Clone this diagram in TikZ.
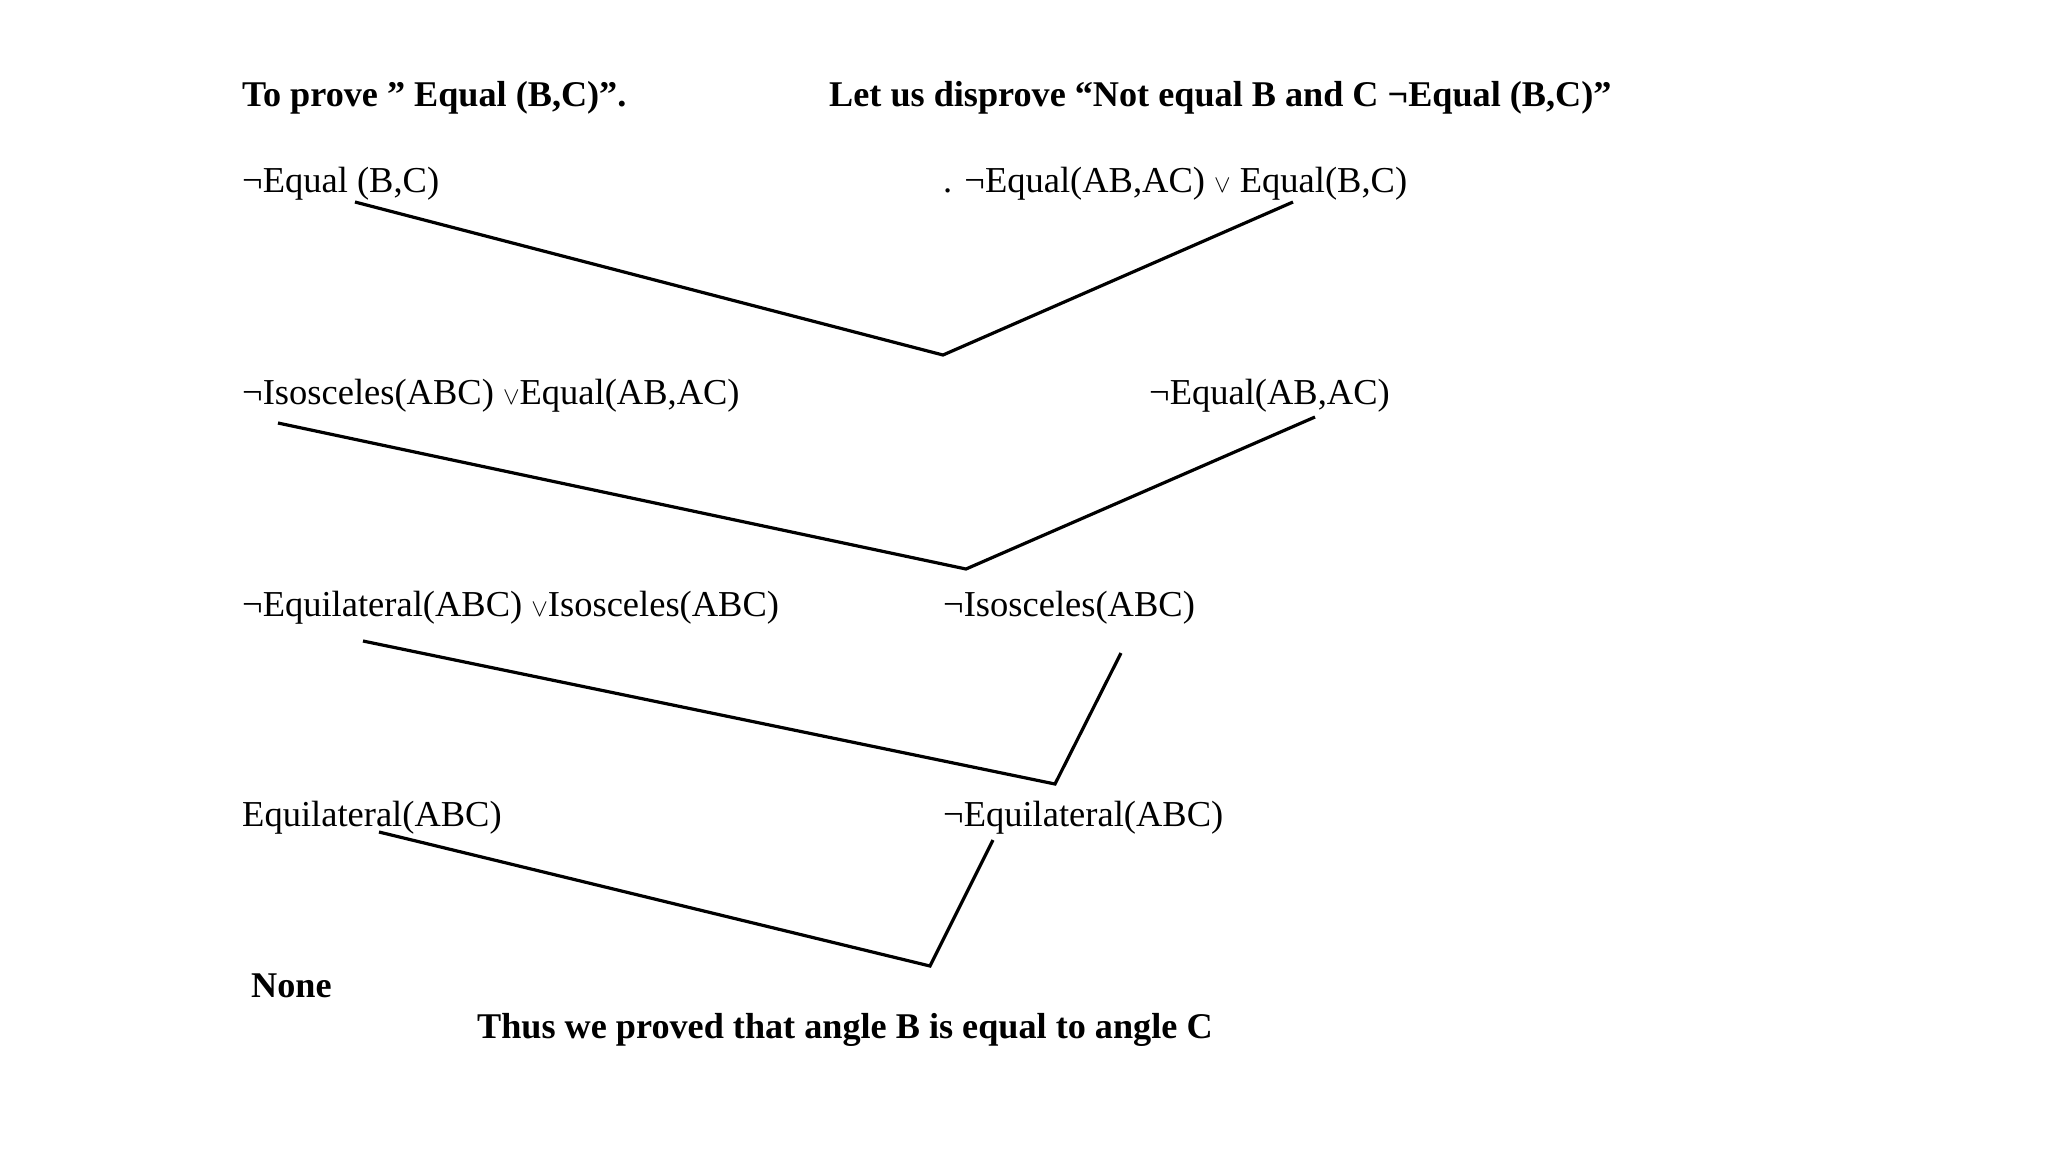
\documentclass[tikz,border=0pt]{standalone}
\usepackage{fontspec}
\setmainfont{Liberation Serif}
\begin{document}
\begin{tikzpicture}[x=1pt,y=-1pt,
  txt/.style={anchor=west,inner sep=0pt,font=\fontsize{36.5}{42}\selectfont},
  hdr/.style={txt,font=\fontsize{36.2}{42}\selectfont\bfseries},
  link/.style={line width=3.2pt,line join=miter}]
\useasboundingbox[fill=white] (0,0) rectangle (2048,1152);
\node[hdr] (h1) at (242,98) {To prove ” Equal (B,C)”.};
\node[hdr] (h2) at (829,98) {Let us disprove “Not equal B and C ¬Equal (B,C)”};
\node[txt] (a1) at (242,184) {¬Equal (B,C)};
\node[txt] (b1) at (943,184) {. ¬Equal(AB,AC) $\vee$ Equal(B,C)};
\node[txt] (a2) at (242,396) {¬Isosceles(ABC) $\vee$Equal(AB,AC)};
\node[txt] (b2) at (1149,396) {¬Equal(AB,AC)};
\node[txt] (a3) at (242,608) {¬Equilateral(ABC) $\vee$Isosceles(ABC)};
\node[txt] (b3) at (943,608) {¬Isosceles(ABC)};
\node[txt] (a4) at (242,818) {Equilateral(ABC)};
\node[txt] (b4) at (943,818) {¬Equilateral(ABC)};
\node[hdr] (none) at (251,986) {None};
\node[hdr] (concl) at (477,1030) {Thus we proved that angle B is equal to angle C};
% endpoints
\coordinate (a1e) at (355,202);
\coordinate (r1) at (943,355);
\coordinate (b1e) at (1293,202);
\coordinate (a2e) at (278,423);
\coordinate (r2) at (966,569);
\coordinate (b2e) at (1315,417);
\coordinate (a3e) at (363,641);
\coordinate (r3) at (1055,784);
\coordinate (b3e) at (1121,653);
\coordinate (a4e) at (379,832);
\coordinate (r4) at (930,966);
\coordinate (b4e) at (993,840);
\draw[link] (a1e) -- (r1) -- (b1e);
\draw[link] (a2e) -- (r2) -- (b2e);
\draw[link] (a3e) -- (r3) -- (b3e);
\draw[link] (a4e) -- (r4) -- (b4e);
\end{tikzpicture}
\end{document}
